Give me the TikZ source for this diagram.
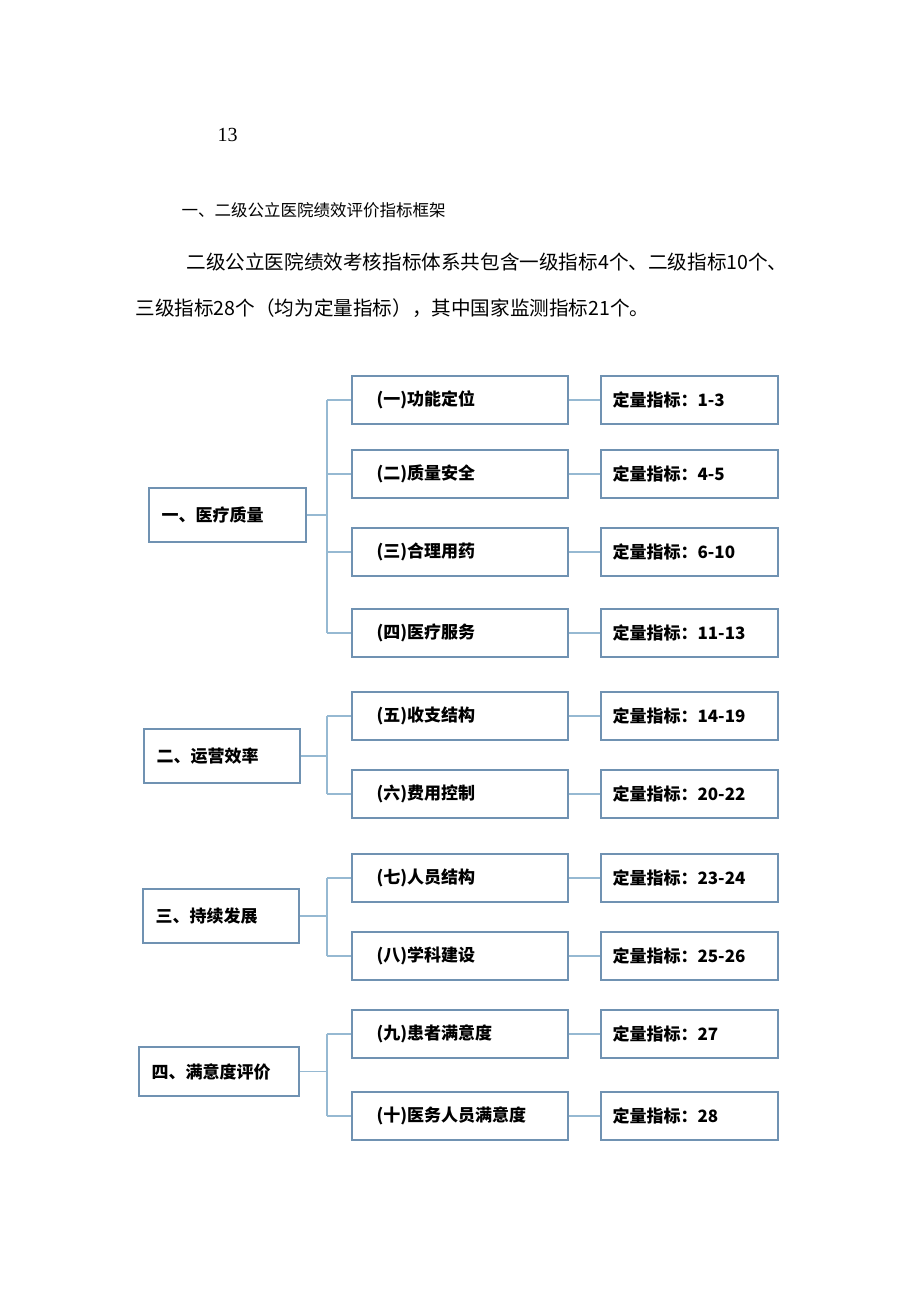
\documentclass[tikz,border=0pt]{standalone}
\usepackage{fontspec}
\setmainfont{Liberation Serif}
\newfontfamily\cjk{Noto Sans CJK SC}
\definecolor{bx}{RGB}{112,146,178}
\definecolor{ln}{RGB}{150,185,210}
\begin{document}
\begin{tikzpicture}[x=1pt,y=-1pt,
  box/.style={draw=bx,line width=2pt,inner sep=0pt,anchor=north west},
  lab/.style={anchor=west,font=\cjk\bfseries\fontsize{17}{20}\selectfont},
  conn/.style={draw=ln,line width=1.5pt}]
\useasboundingbox (0,0) rectangle (920,1301);
\node[anchor=west,font=\fontsize{20}{22}\selectfont] (pg) at (214,135) {13};
\node[anchor=west,font=\cjk\fontsize{16.5}{18}\selectfont] (hd) at (178,210) {一、二级公立医院绩效评价指标框架};
\node[anchor=west,font=\cjk\fontsize{19.6}{22}\selectfont] (p1) at (183,262) {二级公立医院绩效考核指标体系共包含一级指标4个、二级指标10个、};
\node[anchor=west,font=\cjk\fontsize{19.6}{22}\selectfont] (p2) at (132,308) {三级指标28个（均为定量指标），其中国家监测指标21个。};
% level 1
\newcommand\lone[5]{\node[box,minimum width=#3,minimum height=#4] (#1) at #2 {};
  \node[lab] at ([xshift=10pt]#1.west) {#5};}
\lone{a}{(148,487)}{157}{54}{一、医疗质量}
\lone{b}{(143,728)}{156}{54}{二、运营效率}
\lone{c}{(142,888)}{156}{54}{三、持续发展}
\lone{d}{(138,1046)}{160}{49}{四、满意度评价}
% level 2 and 3
\newcommand\ltwo[4]{\node[box,minimum width=216,minimum height=48] (m#1) at (351,#2) {};
  \node[lab] at ([xshift=22pt]m#1.west) {#3};
  \node[box,minimum width=177,minimum height=48] (r#1) at (600,#2) {};
  \node[lab] at ([xshift=9pt]r#1.west) {定量指标：#4};
  \draw[conn] (m#1.east) -- (r#1.west);}
\ltwo{1}{375}{(一)功能定位}{1-3}
\ltwo{2}{449}{(二)质量安全}{4-5}
\ltwo{3}{527}{(三)合理用药}{6-10}
\ltwo{4}{608}{(四)医疗服务}{11-13}
\ltwo{5}{691}{(五)收支结构}{14-19}
\ltwo{6}{769}{(六)费用控制}{20-22}
\ltwo{7}{853}{(七)人员结构}{23-24}
\ltwo{8}{931}{(八)学科建设}{25-26}
\ltwo{9}{1009}{(九)患者满意度}{27}
\ltwo{10}{1091}{(十)医务人员满意度}{28}
% trees
\foreach \p/\t/\bb in {a/1/4,b/5/6,c/7/8,d/9/10}{
  \draw[conn] (\p.east) -- (327,0 |- \p.east);
  \draw[conn] (327,0 |- m\t.west) -- (327,0 |- m\bb.west);
}
\foreach \i in {1,...,10} \draw[conn] (327,0 |- m\i.west) -- (m\i.west);
\end{tikzpicture}
\end{document}
